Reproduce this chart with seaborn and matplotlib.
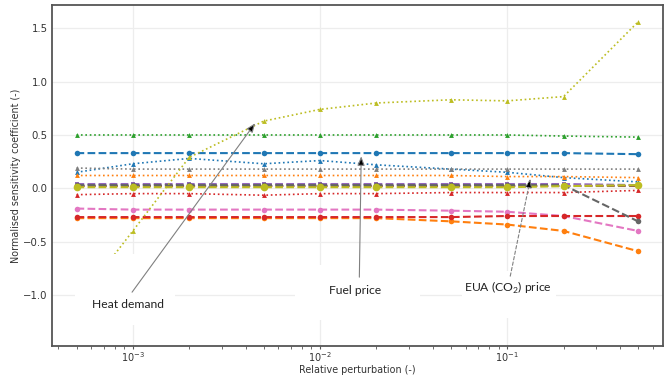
import numpy as np
import pandas as pd
import seaborn as sns
import matplotlib.pyplot as plt
from matplotlib.patches import Rectangle

# relative perturbation steps
x_pert = [5e-4, 1e-3, 2e-3, 5e-3, 1e-2, 2e-2, 5e-2, 1e-1, 2e-1, 5e-1]

# normalised sensitivity coefficient per parameter
heat_demand = [-1.08, -0.40, 0.29, 0.63, 0.74, 0.80, 0.83, 0.82, 0.86, 1.56]
green_dot = [0.50, 0.50, 0.50, 0.50, 0.50, 0.50, 0.50, 0.50, 0.49, 0.48]
blue_dash = [0.33, 0.33, 0.33, 0.33, 0.33, 0.33, 0.33, 0.33, 0.33, 0.32]
blue_dot = [0.15, 0.23, 0.28, 0.23, 0.26, 0.22, 0.18, 0.15, 0.10, 0.06]
gray_dot = [0.19, 0.18, 0.18, 0.18, 0.18, 0.18, 0.18, 0.18, 0.18, 0.18]
orange_dot = [0.12, 0.12, 0.12, 0.12, 0.12, 0.12, 0.12, 0.11, 0.11, 0.10]
purple_dash = [0.04, 0.04, 0.04, 0.04, 0.04, 0.04, 0.04, 0.04, 0.04, 0.03]
brown_dash = [0.02, 0.02, 0.02, 0.02, 0.02, 0.02, 0.02, 0.02, 0.02, 0.02]
gray_dash = [0.03, 0.03, 0.03, 0.03, 0.03, 0.03, 0.03, 0.03, 0.03, -0.31]
olive_dash = [0.01, 0.01, 0.01, 0.01, 0.01, 0.01, 0.01, 0.01, 0.02, 0.03]
red_dot = [-0.06, -0.05, -0.05, -0.065, -0.05, -0.05, -0.04, -0.04, -0.04, -0.02]
pink_dash = [-0.19, -0.20, -0.20, -0.20, -0.20, -0.20, -0.21, -0.22, -0.26, -0.40]
red_dash = [-0.27, -0.27, -0.27, -0.27, -0.27, -0.27, -0.27, -0.26, -0.26, -0.26]
orange_dash = [-0.28, -0.28, -0.28, -0.28, -0.28, -0.28, -0.31, -0.34, -0.40, -0.59]

series = [
    (green_dot, '#2ca02c', ':', '^', 3.5),
    (blue_dash, '#1f77b4', '--', 'o', 4),
    (blue_dot, '#1f77b4', ':', '^', 3.5),
    (gray_dot, '#7f7f7f', ':', '^', 3.5),
    (orange_dot, '#ff7f0e', ':', '^', 3.5),
    (red_dot, '#d62728', ':', '^', 3.5),
    (pink_dash, '#e377c2', '--', 'o', 4),
    (orange_dash, '#ff7f0e', '--', 'o', 4),
    (red_dash, '#d62728', '--', 'o', 4),
    (purple_dash, '#9467bd', '--', 's', 3.5),
    (brown_dash, '#8c564b', '--', 's', 3.5),
    (gray_dash, '#666666', '--', 'o', 4),
    (olive_dash, '#bcbd22', '--', 'o', 5.5),
    (heat_demand, '#bcbd22', ':', '^', 3.5),
]

sns.set_theme(style='whitegrid', rc={
    'axes.edgecolor': '#555555',
    'axes.linewidth': 1.3,
    'grid.color': '#ededed',
    'grid.linewidth': 0.9,
    'xtick.bottom': True,
    'xtick.minor.visible': True,
    'xtick.color': '#555555',
})

fig = plt.figure(figsize=(6.67, 3.77), dpi=100)
ax = fig.add_axes([0.078, 0.082, 0.916, 0.905])

for vals, col, ls, mk, ms in series:
    sns.lineplot(x=x_pert, y=vals, ax=ax, color=col, linestyle=ls, marker=mk,
                 markersize=ms, markeredgewidth=0,
                 linewidth=1.5 if ls == '--' else 1.2)

ax.set_xscale('log')
ax.set_xlim(3.7e-4, 0.68)
ax.set_ylim(-1.48, 1.72)
ax.set_yticks([-1.0, -0.5, 0.0, 0.5, 1.0, 1.5])
ax.grid(True, which='major')
ax.grid(False, which='minor')
ax.tick_params(axis='x', which='major', length=2.5, width=0.8, pad=0.5, labelsize=7, labelcolor='#333333')
ax.tick_params(axis='x', which='minor', length=2, width=0.6)
ax.tick_params(axis='y', length=0, pad=3, labelsize=7.3, labelcolor='#333333')
ax.set_xlabel('Relative perturbation (-)', fontsize=6.9, color='#333333', va='center')
ax.set_ylabel('Normalised sensitivity coefficient (-)', fontsize=6.9, color='#333333', va='center')
ax.xaxis.set_label_coords(0.499, -0.07)
ax.yaxis.set_label_coords(-0.059, 0.5)

# white text boxes pasted over the plot
for bx in [(0.038, 0.062, 0.163, 0.208), (0.398, 0.076, 0.204, 0.162), (0.671, 0.082, 0.154, 0.138)]:
    ax.add_patch(Rectangle(bx[:2], bx[2], bx[3], transform=ax.transAxes,
                           facecolor='white', edgecolor='none', zorder=5))

tf = dict(fontsize=8.7, family='Lato', color='#222222', ha='center', va='center', zorder=7)
ax.text(0.124, 0.123, 'Heat demand', transform=ax.transAxes, **tf)
ax.text(0.496, 0.164, 'Fuel price', transform=ax.transAxes, **tf)
ax.text(0.746, 0.170, r'EUA (CO$_\mathregular{2}$) price', transform=ax.transAxes, **tf)

arr = dict(arrowstyle='-|>,head_length=0.45,head_width=0.18', ec='#808080', fc='black',
           lw=0.8, shrinkA=0, shrinkB=0)
ax.annotate('', xy=(4.5e-3, 0.61), xycoords='data', xytext=(0.131, 0.158),
            textcoords='axes fraction', arrowprops=arr, zorder=8)
ax.annotate('', xy=(0.0166, 0.30), xycoords='data', xytext=(0.503, 0.202),
            textcoords='axes fraction', arrowprops=arr, zorder=8)
ax.annotate('', xy=(0.133, 0.09), xycoords='data', xytext=(0.750, 0.205),
            textcoords='axes fraction', arrowprops=dict(arr, linestyle=(0, (3, 2))), zorder=8)

plt.savefig('out.png', dpi=100)
